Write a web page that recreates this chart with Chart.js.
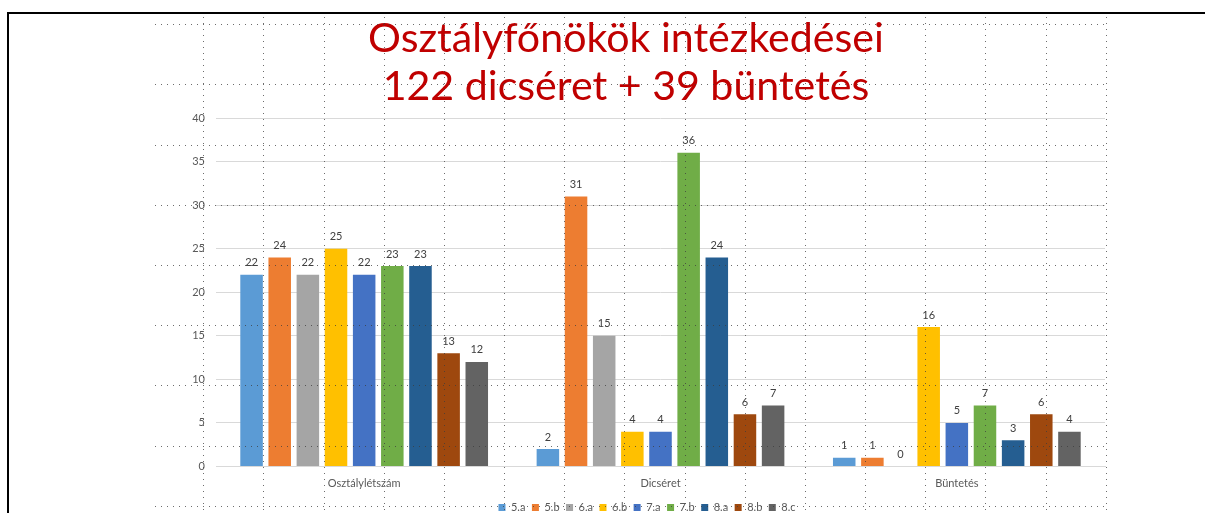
<!DOCTYPE html>
<html>
<head>
<meta charset="utf-8">
<script src="https://cdn.jsdelivr.net/npm/chart.js@4"></script>
<style>
  html, body { margin: 0; padding: 0; background: #fff; }
  #wrap { width: 1205px; height: 513px; }
</style>
</head>
<body>
<div id="wrap"><canvas id="chart" width="1205" height="513"></canvas></div>
<script>
const categories = ["Osztálylétszám", "Dicséret", "Büntetés"];
const classes = ["5.a", "5.b", "6.a", "6.b", "7.a", "7.b", "8.a", "8.b", "8.c"];
const osztalyletszam = [22, 24, 22, 25, 22, 23, 23, 13, 12];
const dicseret = [2, 31, 15, 4, 4, 36, 24, 6, 7];
const buntetes = [1, 1, 0, 16, 5, 7, 3, 6, 4];
const titleLines = ["Osztályfőnökök intézkedései", "122 dicséret + 39 büntetés"];

const classColors = ["#5B9BD5", "#ED7D31", "#A5A5A5", "#FFC000", "#4472C4",
                     "#70AD47", "#255E91", "#9E480E", "#636363"];

const FONT = "Lato";

// title, slide frame and the dotted slide grid drawn over the chart
const slidePlugin = {
    id: "slide",
    afterDraw(chart) {
        const ctx = chart.ctx;
        ctx.save();

        // title
        ctx.fillStyle = "#C00000";
        ctx.textAlign = "center";
        ctx.textBaseline = "alphabetic";
        ctx.font = `38px ${FONT}`;
        const w = ctx.measureText(titleLines[0]).width;
        const size = 38 * 516 / w;
        ctx.font = `${size}px ${FONT}`;
        ctx.fillText(titleLines[0], 626, 52);
        ctx.fillText(titleLines[1], 626, 100);

        // frame
        ctx.fillStyle = "#000";
        ctx.fillRect(7, 12, 1198, 2);
        ctx.fillRect(7, 12, 2, 501);

        // dotted grid
        ctx.fillStyle = "rgba(60,60,60,0.75)";
        for (let k = 0; k <= 15; k++) {
            const x = Math.round(203.3 + 60.16 * k);
            for (let y = 17; y < 513; y += 6) ctx.fillRect(x, y, 1, 1);
        }
        for (let j = 0; j <= 8; j++) {
            const y = Math.round(24.1 + 60.2 * j);
            for (let x = 155; x <= 1106; x += 6) ctx.fillRect(x, y, 1, 1);
        }
        ctx.restore();
    }
};

const valueLabels = {
    id: "valueLabels",
    afterDatasetsDraw(chart) {
        const ctx = chart.ctx;
        ctx.save();
        ctx.fillStyle = "#404040";
        ctx.font = `11px ${FONT}`;
        ctx.textAlign = "center";
        ctx.textBaseline = "middle";
        chart.data.datasets.forEach((ds, i) => {
            chart.getDatasetMeta(i).data.forEach((bar, j) => {
                ctx.fillText(String(ds.data[j]), bar.x, bar.y - 12);
            });
        });
        ctx.restore();
    }
};

new Chart(document.getElementById("chart"), {
    type: "bar",
    data: {
        labels: categories,
        datasets: classes.map((c, i) => ({
            label: c,
            data: [osztalyletszam[i], dicseret[i], buntetes[i]],
            backgroundColor: classColors[i],
            borderWidth: 0,
            categoryPercentage: 0.855,
            barPercentage: 0.8
        }))
    },
    options: {
        responsive: false,
        animation: false,
        devicePixelRatio: 1,
        layout: { padding: { left: 189, right: 100, top: 118, bottom: -10 } },
        plugins: {
            title: { display: false },
            tooltip: { enabled: false },
            legend: {
                position: "bottom",
                labels: {
                    boxWidth: 7,
                    boxHeight: 7,
                    padding: 6.5,
                    color: "#595959",
                    font: { family: FONT, size: 11 }
                }
            }
        },
        scales: {
            x: {
                grid: { display: false, drawTicks: false },
                border: { display: true, color: "#D9D9D9" },
                ticks: { color: "#595959", padding: 10, font: { family: FONT, size: 11 } },
                afterFit: (s) => { s.height = 29; }
            },
            y: {
                min: 0,
                max: 40,
                ticks: { stepSize: 5, color: "#595959", padding: 11, font: { family: FONT, size: 11 } },
                grid: { color: "#D9D9D9", drawTicks: false },
                border: { display: false },
                afterFit: (s) => { s.width = 27; }
            }
        }
    },
    plugins: [valueLabels, slidePlugin]
});
</script>
</body>
</html>
